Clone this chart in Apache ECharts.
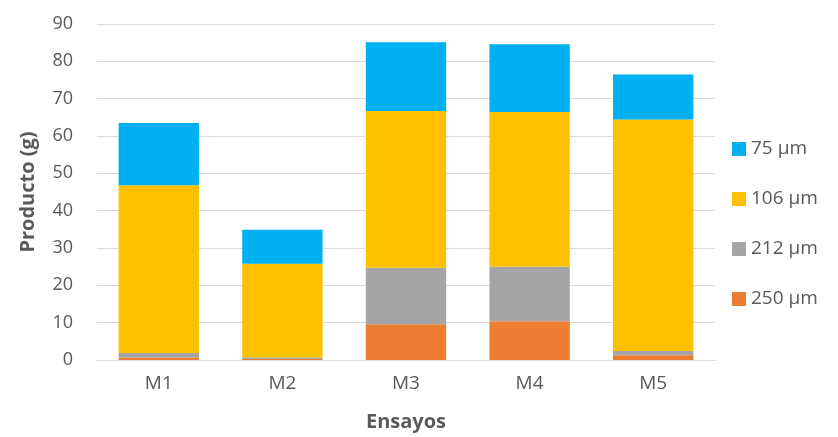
<!DOCTYPE html>
<html>
<head>
<meta charset="utf-8">
<script src="https://cdn.jsdelivr.net/npm/echarts@6/dist/echarts.min.js"></script>
<style>
  html, body { margin: 0; padding: 0; background: #fff; }
  #chart { width: 838px; height: 437px; }
</style>
</head>
<body>
<div id="chart"></div>
<script>
// Product mass retained per sieve size for each trial
const categories = ['M1', 'M2', 'M3', 'M4', 'M5'];
const s250 = [0.7, 0.3, 9.6, 10.4, 1.3];
const s212 = [1.2, 0.4, 15.1, 14.6, 1.1];
const s106 = [44.9, 25.1, 42.0, 41.4, 62.0];
const s75 = [16.7, 9.1, 18.4, 18.2, 12.1];
const yTicks = { min: 0, max: 90, interval: 10 };

const FONT = 'Open Sans';
const TXT = '#595959';

const seriesDefs = [
  { name: '250 µm', data: s250, color: '#ED7D31' },
  { name: '212 µm', data: s212, color: '#A5A5A5' },
  { name: '106 µm', data: s106, color: '#FFC000' },
  { name: '75 µm', data: s75, color: '#00B0F0' }
];

const chart = echarts.init(document.getElementById('chart'), null, { renderer: 'canvas' });
chart.setOption({
  animation: false,
  textStyle: { fontFamily: FONT },
  grid: { left: 97, right: 123, top: 24, bottom: 76 },
  legend: {
    orient: 'vertical',
    left: 727,
    top: 134,
    itemWidth: 14,
    itemHeight: 14,
    itemGap: 30,
    icon: 'rect',
    data: ['75 µm', '106 µm', '212 µm', '250 µm'],
    textStyle: { fontFamily: FONT, fontSize: 19, color: TXT, lineHeight: 20, padding: [0, 0, 0, 0] }
  },
  xAxis: {
    type: 'category',
    data: categories,
    name: 'Ensayos',
    nameLocation: 'middle',
    nameGap: 52,
    nameTextStyle: { fontFamily: FONT, fontSize: 20, fontWeight: 'bold', color: TXT },
    axisLine: { lineStyle: { color: '#D9D9D9', width: 1 } },
    axisTick: { show: false },
    axisLabel: { fontSize: 19, color: TXT, margin: 14 }
  },
  yAxis: {
    type: 'value',
    min: yTicks.min,
    max: yTicks.max,
    interval: yTicks.interval,
    name: 'Producto (g)',
    nameLocation: 'middle',
    nameGap: 59,
    nameTextStyle: { fontFamily: FONT, fontSize: 20, fontWeight: 'bold', color: TXT },
    axisLine: { show: false },
    axisTick: { show: false },
    axisLabel: { fontSize: 18, color: TXT, margin: 24 },
    splitLine: { lineStyle: { color: '#D9D9D9', width: 1 } }
  },
  series: seriesDefs.map(s => ({
    name: s.name,
    type: 'bar',
    stack: 'total',
    data: s.data,
    barWidth: '65%',
    itemStyle: { color: s.color }
  }))
});
</script>
</body>
</html>
